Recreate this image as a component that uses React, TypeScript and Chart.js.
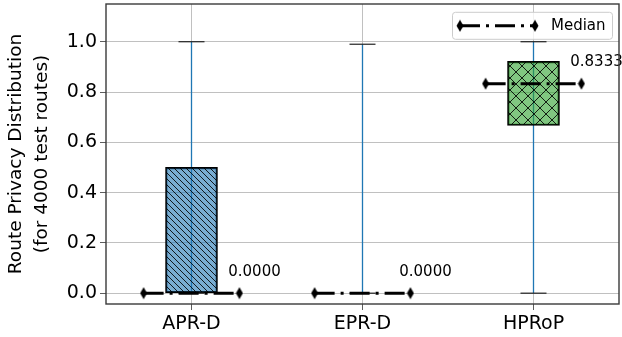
import React, { useEffect, useRef } from 'react';
import { Chart, registerables } from 'chart.js';
Chart.register(...registerables);

const categories = ['APR-D', 'EPR-D', 'HPRoP'];
const whiskerLow = [0, 0, 0];
const q1 = [0, 0, 0.667];
const medians = [0, 0, 0.8333];
const q3 = [0.5, 0, 0.922];
const whiskerHigh = [1.0, 0.99, 1.0];
const yTicks = [0, 0.2, 0.4, 0.6, 0.8, 1.0];
const yTickLabels = ['0.0', '0.2', '0.4', '0.6', '0.8', '1.0'];
const medianLabel = 'Median';
const yTitle = ['Route Privacy Distribution', '(for 4000 test routes)'];

const FONT = "'DejaVu Sans', sans-serif";

function makeHatch(target: CanvasRenderingContext2D, fill: string, spacing: number, dirs: string[]) {
  const c = document.createElement('canvas');
  c.width = spacing;
  c.height = spacing;
  const ctx = c.getContext('2d')!;
  ctx.fillStyle = fill;
  ctx.fillRect(0, 0, spacing, spacing);
  ctx.strokeStyle = 'rgba(0,0,0,0.85)';
  ctx.lineWidth = 1;
  for (const d of dirs) {
    ctx.beginPath();
    for (const off of [-spacing, 0, spacing]) {
      if (d === '\\') {
        ctx.moveTo(off, 0);
        ctx.lineTo(off + spacing, spacing);
      } else {
        ctx.moveTo(off, spacing);
        ctx.lineTo(off + spacing, 0);
      }
    }
    ctx.stroke();
  }
  return target.createPattern(c, 'repeat');
}

function makeDiamond() {
  const c = document.createElement('canvas');
  c.width = 8;
  c.height = 13;
  const ctx = c.getContext('2d')!;
  ctx.fillStyle = '#000';
  ctx.beginPath();
  ctx.moveTo(4, 0.5);
  ctx.lineTo(7.5, 6.5);
  ctx.lineTo(4, 12.5);
  ctx.lineTo(0.5, 6.5);
  ctx.closePath();
  ctx.fill();
  return c;
}

export default function App() {
  const ref = useRef<HTMLCanvasElement | null>(null);

  useEffect(() => {
    document.body.style.margin = '0';
    const canvas = ref.current!;
    const ctx = canvas.getContext('2d')!;
    const blueHatch = makeHatch(ctx, 'rgba(31,119,180,0.6)', 6, ['\\']);
    const greenHatch = makeHatch(ctx, 'rgba(44,160,44,0.6)', 12, ['\\', '/']);
    const diamond = makeDiamond();

    const whiskerData: any[] = [];
    const capData: any[] = [];
    const medianData: any[] = [];
    categories.forEach((_, i) => {
      const x = i + 1;
      whiskerData.push({ x, y: whiskerLow[i] }, { x, y: whiskerHigh[i] }, { x, y: null });
      capData.push({ x, y: whiskerLow[i] }, { x, y: whiskerHigh[i] });
      medianData.push({ x: x - 0.28, y: medians[i] }, { x: x + 0.28, y: medians[i] }, { x, y: null });
    });

    const overlay = {
      id: 'overlay',
      afterDatasetsDraw(chart: any) {
        const c = chart.ctx;
        const xs = chart.scales.x;
        const ys = chart.scales.y;
        const ca = chart.chartArea;
        c.save();
        // annotations
        c.fillStyle = '#000';
        c.font = `15px ${FONT}`;
        c.textAlign = 'left';
        c.textBaseline = 'middle';
        categories.forEach((_, i) => {
          const px = xs.getPixelForValue(i + 1 + 0.215);
          const py = ys.getPixelForValue(medians[i] + 0.085);
          c.fillText(medians[i].toFixed(4), px, py);
        });
        // frame
        c.strokeStyle = '#3a3a3a';
        c.lineWidth = 1.4;
        c.strokeRect(ca.left, ca.top, ca.right - ca.left, ca.bottom - ca.top);
        // legend
        const bw = 160, bh = 27;
        const bx = ca.right - 6.5 - bw;
        const by = ca.top + 8.3;
        c.beginPath();
        if ((c as any).roundRect) (c as any).roundRect(bx, by, bw, bh, 3);
        else c.rect(bx, by, bw, bh);
        c.fillStyle = 'rgba(255,255,255,0.8)';
        c.fill();
        c.strokeStyle = '#cccccc';
        c.lineWidth = 1;
        c.stroke();
        const ly = by + bh / 2;
        const lx0 = bx + 7.5, lx1 = bx + 82.5;
        c.beginPath();
        c.setLineDash([20, 6, 3, 6]);
        c.strokeStyle = '#000';
        c.lineWidth = 3;
        c.moveTo(lx0, ly);
        c.lineTo(lx1, ly);
        c.stroke();
        c.setLineDash([]);
        c.drawImage(diamond, lx0 - diamond.width / 2, ly - diamond.height / 2);
        c.drawImage(diamond, lx1 - diamond.width / 2, ly - diamond.height / 2);
        c.fillStyle = '#000';
        c.font = `15px ${FONT}`;
        c.textAlign = 'left';
        c.textBaseline = 'middle';
        c.fillText(medianLabel, bx + 98.5, ly + 0.5);
        c.restore();
      },
    };

    const chart = new Chart(canvas, {
      type: 'bar',
      data: {
        datasets: [
          {
            type: 'line',
            label: 'whiskers',
            data: whiskerData,
            borderColor: '#1f77b4',
            borderWidth: 1.3,
            pointRadius: 0,
            spanGaps: false,
            order: 4,
          } as any,
          {
            type: 'bar',
            label: 'boxes',
            data: categories.map((_, i) => ({ x: i + 1, y: [q1[i], q3[i]] })),
            backgroundColor: [blueHatch, 'rgba(255,127,14,0.6)', greenHatch],
            borderColor: '#000',
            borderWidth: 1.5,
            borderSkipped: false,
            barThickness: 52,
            grouped: false,
            order: 3,
          } as any,
          {
            type: 'scatter',
            label: 'caps',
            data: capData,
            pointStyle: 'line',
            pointRadius: 13,
            borderColor: '#222',
            borderWidth: 1.2,
            order: 2,
          } as any,
          {
            type: 'line',
            label: medianLabel,
            data: medianData,
            borderColor: '#000',
            borderWidth: 3,
            borderDash: [20, 6, 3, 6],
            pointStyle: diamond,
            pointRadius: 6,
            spanGaps: false,
            order: 1,
          } as any,
        ],
      },
      options: {
        animation: false,
        responsive: false,
        events: [],
        layout: { autoPadding: false, padding: { top: 4, right: 3, left: 0, bottom: 0 } },
        plugins: { legend: { display: false }, tooltip: { enabled: false } },
        scales: {
          x: {
            type: 'linear',
            min: 0.5,
            max: 3.5,
            offset: false,
            afterBuildTicks: (s: any) => {
              s.ticks = categories.map((_, i) => ({ value: i + 1 }));
            },
            afterFit: (s: any) => {
              s.height = 33;
              s.paddingLeft = 0;
              s.paddingRight = 0;
            },
            ticks: {
              autoSkip: false,
              maxRotation: 0,
              color: '#000',
              padding: 3,
              font: { family: FONT, size: 19 },
              callback: (v: any) => categories[Math.round(v) - 1] ?? '',
            },
            grid: { color: '#b0b0b0', lineWidth: 0.8, tickColor: '#333', tickLength: 6, offset: false },
            border: { display: false },
          },
          y: {
            type: 'linear',
            min: -0.043,
            max: 1.15,
            afterBuildTicks: (s: any) => {
              s.ticks = yTicks.map((v) => ({ value: v }));
            },
            afterFit: (s: any) => {
              s.width = 106;
              s.paddingTop = 0;
              s.paddingBottom = 0;
            },
            ticks: {
              color: '#000',
              padding: 3,
              font: { family: FONT, size: 19 },
              callback: (v: any) => {
                const idx = yTicks.findIndex((t) => Math.abs(t - v) < 1e-6);
                return idx >= 0 ? yTickLabels[idx] : '';
              },
            },
            title: {
              display: true,
              text: yTitle,
              color: '#000',
              font: { family: FONT, size: 18.5, lineHeight: 1.38 },
              padding: { top: 3.5, bottom: 0 },
            },
            grid: { color: '#b0b0b0', lineWidth: 0.8, tickColor: '#333', tickLength: 6 },
            border: { display: false },
          },
        },
      } as any,
      plugins: [overlay],
    });
    return () => chart.destroy();
  }, []);

  return (
    <div style={{ width: 622, height: 337 }}>
      <canvas ref={ref} width={622} height={337} style={{ display: 'block', width: 622, height: 337 }} />
    </div>
  );
}
